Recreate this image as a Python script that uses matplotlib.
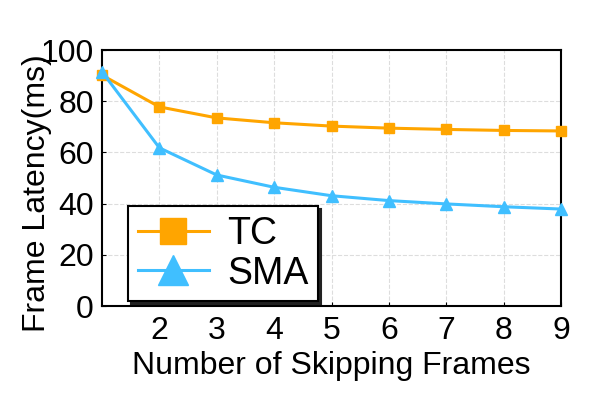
import matplotlib
matplotlib.use("Agg")
import matplotlib.pyplot as plt

plt.rcParams['font.family'] = ['Liberation Sans', 'DejaVu Sans']

frames = [1, 2, 3, 4, 5, 6, 7, 8, 9]
tc = [90.2, 77.8, 73.5, 71.6, 70.3, 69.5, 69.0, 68.6, 68.4]
sma = [91.5, 61.8, 51.2, 46.4, 43.1, 41.2, 39.9, 38.8, 37.9]
xticks = [2, 3, 4, 5, 6, 7, 8, 9]
yticks = [0, 20, 40, 60, 80, 100]

fig = plt.figure(figsize=(6.09, 4.07), dpi=100)
ax = fig.add_axes([0.1675, 0.248, 0.7537, 0.629])

ax.plot(frames, tc, color='#FFA500', lw=2.2, marker='s', ms=7.5, label='TC', clip_on=False, zorder=3)
ax.plot(frames, sma, color='#40BFFF', lw=2.2, marker='^', ms=8.5, label='SMA', clip_on=False, zorder=3)

ax.set_xlim(1, 9)
ax.set_ylim(0, 100)
ax.set_xticks(xticks)
ax.set_yticks(yticks)
ax.tick_params(labelsize=23, direction='in', length=3, width=0.8, pad=7)
ax.tick_params(axis='y', pad=6)
ax.grid(True, ls='--', color='#DDDDDD', lw=0.8)
for s in ax.spines.values():
    s.set_linewidth(1.5)

ax.set_xlabel('Number of Skipping Frames', fontsize=23, labelpad=4)
fig.text(37 / 609, 1 - 193 / 407, 'Frame Latency(ms)', fontsize=23, rotation=90,
         ha='center', va='center')

leg = ax.legend(loc='lower left', bbox_to_anchor=(0.057, 0.02), borderaxespad=0,
                fontsize=27, markerscale=2.5, handlelength=1.9, labelspacing=0.1,
                handletextpad=0.5, borderpad=0.25, fancybox=False,
                shadow={'color': '#222222', 'alpha': 1},
                framealpha=1, edgecolor='black')
leg.get_frame().set_linewidth(1.5)

fig.savefig('out.png', dpi=100)
